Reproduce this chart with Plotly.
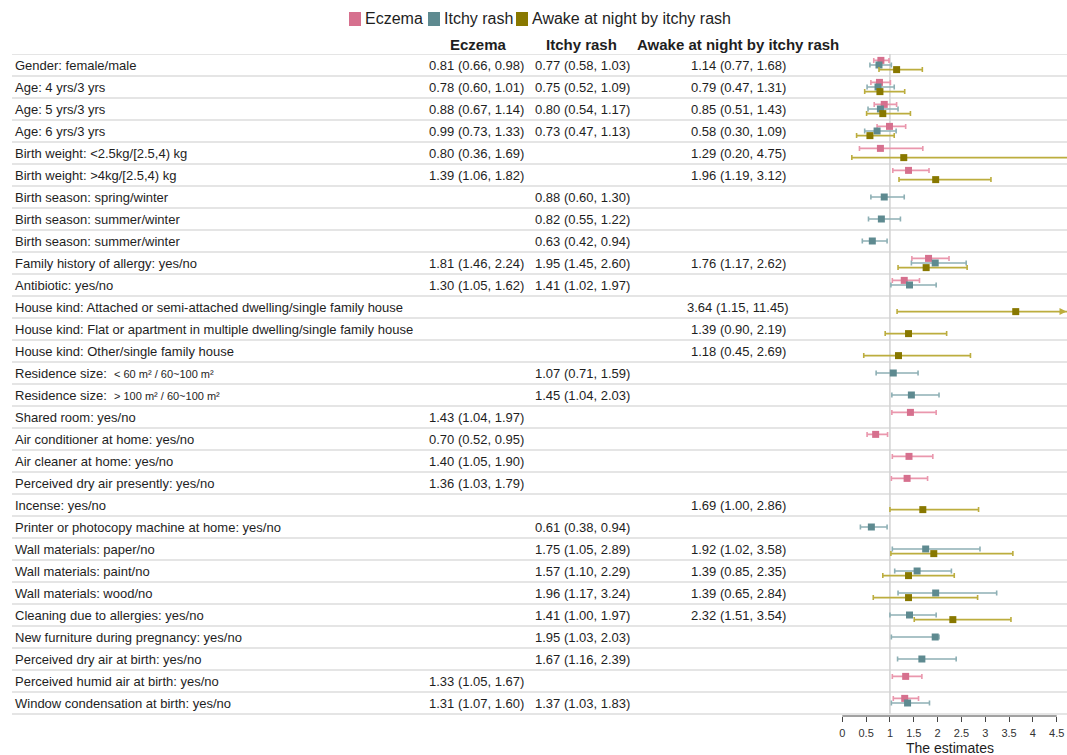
import plotly.graph_objects as go

# ---- data -------------------------------------------------------------
labels = [
    "Gender: female/male",
    "Age: 4 yrs/3 yrs",
    "Age: 5 yrs/3 yrs",
    "Age: 6 yrs/3 yrs",
    "Birth weight: <2.5kg/[2.5,4) kg",
    "Birth weight: >4kg/[2.5,4) kg",
    "Birth season: spring/winter",
    "Birth season: summer/winter",
    "Birth season: summer/winter",
    "Family history of allergy: yes/no",
    "Antibiotic: yes/no",
    "House kind: Attached or semi-attached dwelling/single family house",
    "House kind: Flat or apartment in multiple dwelling/single family house",
    "House kind: Other/single family house",
    "Residence size:",
    "Residence size:",
    "Shared room: yes/no",
    "Air conditioner at home: yes/no",
    "Air cleaner at home: yes/no",
    "Perceived dry air presently: yes/no",
    "Incense: yes/no",
    "Printer or photocopy machine at home: yes/no",
    "Wall materials: paper/no",
    "Wall materials: paint/no",
    "Wall materials: wood/no",
    "Cleaning due to allergies: yes/no",
    "New furniture during pregnancy: yes/no",
    "Perceived dry air at birth: yes/no",
    "Perceived humid air at birth: yes/no",
    "Window condensation at birth: yes/no",
]
# small-print qualifier shown after a label
label_details = [""] * 14 + ["< 60 m² / 60~100 m²", "> 100 m² / 60~100 m²"] + [""] * 14

N = None
eczema_est = [0.81, 0.78, 0.88, 0.99, 0.80, 1.39, N, N, N, 1.81, 1.30, N, N, N, N, N,
              1.43, 0.70, 1.40, 1.36, N, N, N, N, N, N, N, N, 1.33, 1.31]
eczema_lo = [0.66, 0.60, 0.67, 0.73, 0.36, 1.06, N, N, N, 1.46, 1.05, N, N, N, N, N,
             1.04, 0.52, 1.05, 1.03, N, N, N, N, N, N, N, N, 1.05, 1.07]
eczema_hi = [0.98, 1.01, 1.14, 1.33, 1.69, 1.82, N, N, N, 2.24, 1.62, N, N, N, N, N,
             1.97, 0.95, 1.90, 1.79, N, N, N, N, N, N, N, N, 1.67, 1.60]

itchy_est = [0.77, 0.75, 0.80, 0.73, N, N, 0.88, 0.82, 0.63, 1.95, 1.41, N, N, N, 1.07, 1.45,
             N, N, N, N, N, 0.61, 1.75, 1.57, 1.96, 1.41, 1.95, 1.67, N, 1.37]
itchy_lo = [0.58, 0.52, 0.54, 0.47, N, N, 0.60, 0.55, 0.42, 1.45, 1.02, N, N, N, 0.71, 1.04,
            N, N, N, N, N, 0.38, 1.05, 1.10, 1.17, 1.00, 1.03, 1.16, N, 1.03]
itchy_hi = [1.03, 1.09, 1.17, 1.13, N, N, 1.30, 1.22, 0.94, 2.60, 1.97, N, N, N, 1.59, 2.03,
            N, N, N, N, N, 0.94, 2.89, 2.29, 3.24, 1.97, 2.03, 2.39, N, 1.83]

awake_est = [1.14, 0.79, 0.85, 0.58, 1.29, 1.96, N, N, N, 1.76, N, 3.64, 1.39, 1.18, N, N,
             N, N, N, N, 1.69, N, 1.92, 1.39, 1.39, 2.32, N, N, N, N]
awake_lo = [0.77, 0.47, 0.51, 0.30, 0.20, 1.19, N, N, N, 1.17, N, 1.15, 0.90, 0.45, N, N,
            N, N, N, N, 1.00, N, 1.02, 0.85, 0.65, 1.51, N, N, N, N]
awake_hi = [1.68, 1.31, 1.43, 1.09, 4.75, 3.12, N, N, N, 2.62, N, 11.45, 2.19, 2.69, N, N,
            N, N, N, N, 2.86, N, 3.58, 2.35, 2.84, 3.54, N, N, N, N]

series_names = ["Eczema", "Itchy rash", "Awake at night by itchy rash"]
tick_values = [0, 0.5, 1, 1.5, 2, 2.5, 3, 3.5, 4, 4.5]
null_value = 1

# ---- layout geometry --------------------------------------------------
W, H = 1067, 755
ROW_H = 22          # px per table row
TOP = 54            # px, top rule under the header
AXIS_Y = 716        # px, x-axis line
X0_PX, X45_PX = 842.3, 1056.7
PX_PER_UNIT = (X45_PX - X0_PX) / 4.5
PLOT_LEFT_PX = 830
CLIP_LIMIT = 5.0    # CIs beyond this get an arrow at the edge

def fx(p):
    return p / W

def fy(p):
    return 1 - p / H

x_range = [(PLOT_LEFT_PX - X0_PX) / PX_PER_UNIT, (W - X0_PX) / PX_PER_UNIT]
n_rows = len(labels)

FONT = "Liberation Sans, Arial, sans-serif"
TXT = "#1e1e1e"

styles = [
    # marker colour, whisker colour, vertical offset within row
    ("#d6708e", "#ea97ad", -0.21),
    ("#5e8a90", "#8eb0b5", 0.0),
    ("#887800", "#bcad3e", 0.21),
]
est_cols = [eczema_est, itchy_est, awake_est]
lo_cols = [eczema_lo, itchy_lo, awake_lo]
hi_cols = [eczema_hi, itchy_hi, awake_hi]

fig = go.Figure()
annotations = []
shapes = []

for name, est, lo, hi, (mcol, bcol, off) in zip(series_names, est_cols, lo_cols, hi_cols, styles):
    idx = [i for i, v in enumerate(est) if v is not None]
    xs = [est[i] for i in idx]
    ys = [i + 0.5 + off for i in idx]
    fig.add_trace(go.Scatter(
        x=xs, y=ys, mode="markers", name=name, showlegend=False,
        marker=dict(symbol="square", size=7, color=mcol),
        error_x=dict(type="data", symmetric=False,
                     array=[hi[i] - est[i] for i in idx],
                     arrayminus=[est[i] - lo[i] for i in idx],
                     color=bcol, thickness=1.6, width=2.5),
        hoverinfo="skip",
    ))
    # arrowheads for intervals running past the scale limit
    for i in idx:
        if hi[i] > CLIP_LIMIT:
            annotations.append(dict(
                x=x_range[1] - 0.01, y=i + 0.5 + off, xref="x", yref="y",
                ax=x_range[1] - 0.2, ay=i + 0.5 + off, axref="x", ayref="y",
                showarrow=True, arrowhead=2, arrowsize=1, arrowwidth=1.4,
                arrowcolor=bcol, text=""))

# row rules
for k in range(n_rows + 1):
    shapes.append(dict(type="line", xref="paper", yref="y",
                       x0=fx(12), x1=1, y0=k, y1=k,
                       line=dict(color="#dcdcdc", width=1.5), layer="below"))
# null line
shapes.append(dict(type="line", xref="x", yref="y", x0=null_value, x1=null_value,
                   y0=0, y1=n_rows, line=dict(color="#d2d2d2", width=1.5), layer="below"))
# axis line spanning the tick range only
shapes.append(dict(type="line", xref="x", yref="paper", x0=tick_values[0], x1=tick_values[-1],
                   y0=fy(AXIS_Y), y1=fy(AXIS_Y), line=dict(color="#444444", width=1)))

# table text
col_centers = [476, 583, 738]
for i, lab in enumerate(labels):
    if label_details[i]:
        det = label_details[i].replace("<", "&lt;").replace(">", "&gt;")
        text = f"{lab}  <span style='font-size:11px'>{det}</span>"
    else:
        text = lab.replace("<", "&lt;").replace(">", "&gt;")
    annotations.append(dict(x=fx(13), y=i + 0.5, xref="paper", yref="y", text=text,
                            xanchor="left", yanchor="middle", showarrow=False,
                            font=dict(family=FONT, size=13, color=TXT)))
    for c, (est, lo, hi) in enumerate(zip(est_cols, lo_cols, hi_cols)):
        if est[i] is None:
            continue
        annotations.append(dict(x=fx(col_centers[c]), y=i + 0.5, xref="paper", yref="y",
                                text=f"{est[i]:.2f} ({lo[i]:.2f}, {hi[i]:.2f})",
                                xanchor="center", yanchor="middle", showarrow=False,
                                font=dict(family=FONT, size=13, color=TXT)))

# column headers
header_centers = [478, 581, 738]
for c, name in enumerate(series_names):
    annotations.append(dict(x=fx(header_centers[c]), y=fy(44), xref="paper", yref="paper",
                            text=f"<b>{name}</b>", xanchor="center", yanchor="middle",
                            showarrow=False, font=dict(family=FONT, size=15, color=TXT)))

# legend row: coloured swatch followed by its name
legend_x = [349, 428, 516]
for c, name in enumerate(series_names):
    x0 = legend_x[c]
    shapes.append(dict(type="rect", xref="paper", yref="paper",
                       x0=fx(x0), x1=fx(x0 + 12), y0=fy(26), y1=fy(12),
                       fillcolor=styles[c][0], line=dict(width=0)))
    annotations.append(dict(x=fx(x0 + 14), y=fy(19), xref="paper", yref="paper",
                            text=name, xanchor="left", yanchor="middle", showarrow=False,
                            font=dict(family=FONT, size=16, color=TXT)))

# x-axis title
annotations.append(dict(x=sum(tick_values[::len(tick_values) - 1]) / 2, y=fy(748),
                        xref="x", yref="paper", text="The estimates",
                        xanchor="center", yanchor="middle", showarrow=False,
                        font=dict(family=FONT, size=14, color=TXT)))

fig.update_layout(
    width=W, height=H,
    margin=dict(l=0, r=0, t=0, b=0),
    paper_bgcolor="white", plot_bgcolor="white",
    showlegend=False,
    xaxis=dict(domain=[fx(PLOT_LEFT_PX), 1], range=x_range,
               showgrid=False, zeroline=False, showline=False,
               tickmode="array", tickvals=tick_values,
               ticks="outside", ticklen=5, tickwidth=1, tickcolor="#444444",
               ticklabelstandoff=2,
               tickfont=dict(family=FONT, size=11, color="#333333")),
    yaxis=dict(domain=[fy(AXIS_Y), fy(TOP)], range=[(AXIS_Y - TOP) / ROW_H, 0],
               visible=False),
    shapes=shapes,
    annotations=annotations,
)

fig.write_html("out.html")
